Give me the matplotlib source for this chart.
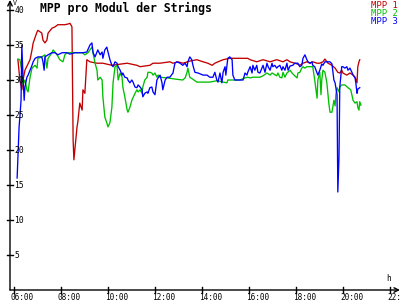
import matplotlib
matplotlib.use("Agg")
import matplotlib.pyplot as plt
import matplotlib.transforms as mtransforms

# MPP 1 (rot)
t_mpp1 = ["06:10", "06:15", "06:20", "06:23", "06:28", "06:41", "06:46", "06:49", "06:54", "06:59",
          "07:01", "07:06", "07:11", "07:14", "07:19", "07:24", "07:27", "07:37", "07:45", "07:52",
          "08:03", "08:10", "08:18", "08:23", "08:28", "08:31", "08:33", "08:36", "08:41", "08:43",
          "08:48", "08:54", "08:56", "09:01", "09:06", "09:14", "09:32", "09:47", "10:10", "10:49",
          "11:14", "11:22", "11:47", "11:55", "12:13", "12:38", "12:46", "12:59", "13:11", "13:29",
          "13:47", "14:03", "14:15", "14:26", "14:33", "14:41", "14:54", "15:11", "15:45", "15:57",
          "16:03", "16:20", "16:36", "16:54", "17:11", "17:27", "17:37", "17:45", "18:03", "18:10",
          "18:18", "18:28", "18:36", "18:43", "18:54", "19:01", "19:09", "19:14", "19:19", "19:22",
          "19:32", "19:40", "19:47", "19:52", "19:57", "20:00", "20:10", "20:18", "20:26", "20:31",
          "20:36", "20:38", "20:41", "20:43"]
v_mpp1 = [32.9, 30.0, 28.6, 30.0, 31.4, 32.9, 34.3, 35.3, 36.1, 36.9,
          37.1, 36.9, 36.7, 35.7, 35.3, 35.7, 36.7, 37.4, 37.6, 37.9,
          37.9, 37.9, 38.0, 38.1, 37.6, 21.4, 18.6, 20.4, 23.3, 24.0,
          26.7, 25.7, 28.6, 28.1, 32.9, 32.6, 32.4, 32.4, 32.1, 32.4,
          32.1, 31.9, 32.1, 32.4, 32.4, 32.6, 32.4, 32.6, 32.4, 32.7,
          32.9, 32.6, 32.4, 32.1, 32.4, 32.6, 32.9, 33.1, 33.1, 33.1,
          32.9, 32.6, 32.9, 32.6, 32.9, 32.6, 32.9, 32.6, 32.3, 32.1,
          32.4, 32.6, 32.4, 32.6, 32.4, 32.4, 32.6, 33.0, 32.6, 32.4,
          32.1, 31.7, 31.1, 31.0, 31.4, 31.0, 30.7, 31.0, 30.7, 30.4,
          29.6, 31.9, 32.6, 32.9]

# MPP 2 (gruen)
t_mpp2 = ["06:10", "06:15", "06:20", "06:23", "06:28", "06:33", "06:36", "06:41", "06:46", "06:54",
          "06:59", "07:01", "07:11", "07:19", "07:24", "07:27", "07:37", "07:40", "07:50", "07:57",
          "08:05", "08:10", "08:15", "08:41", "08:54", "09:01", "09:09", "09:19", "09:27", "09:32",
          "09:34", "09:40", "09:45", "09:47", "09:52", "09:57", "10:00", "10:05", "10:10", "10:13",
          "10:18", "10:23", "10:26", "10:31", "10:36", "10:38", "10:43", "10:49", "10:51", "10:56",
          "11:01", "11:09", "11:14", "11:17", "11:22", "11:27", "11:29", "11:34", "11:40", "11:42",
          "11:47", "11:52", "11:55", "12:00", "12:05", "12:08", "12:13", "12:31", "12:56", "13:11",
          "13:17", "13:22", "13:24", "13:29", "13:37", "13:47", "14:20", "14:38", "14:54", "15:04",
          "15:06", "15:37", "15:50", "15:57", "16:03", "16:10", "16:28", "16:36", "16:46", "16:54",
          "16:59", "17:11", "17:14", "17:19", "17:24", "17:27", "17:32", "17:37", "17:45", "17:50",
          "17:57", "18:03", "18:05", "18:10", "18:15", "18:18", "18:23", "18:28", "18:43", "18:48",
          "18:54", "18:56", "19:01", "19:04", "19:06", "19:09", "19:14", "19:19", "19:24", "19:27",
          "19:32", "19:34", "19:37", "19:40", "19:42", "19:45", "19:50", "19:52", "19:57", "20:05",
          "20:13", "20:20", "20:26", "20:31", "20:36", "20:38", "20:41", "20:43", "20:46"]
v_mpp2 = [33.0, 32.9, 31.4, 29.3, 30.0, 28.6, 28.3, 30.4, 31.7, 32.1,
          31.7, 33.1, 33.3, 33.6, 31.7, 33.1, 33.9, 34.3, 33.6, 32.9,
          32.6, 33.6, 33.9, 33.9, 33.9, 33.6, 33.9, 34.7, 32.4, 31.4,
          30.0, 30.4, 30.0, 27.6, 24.7, 23.9, 23.3, 23.9, 26.1, 29.6,
          31.9, 32.1, 30.0, 31.0, 30.4, 29.0, 27.6, 25.7, 25.4, 26.1,
          27.1, 28.1, 28.6, 28.3, 28.6, 28.1, 29.0, 30.0, 30.4, 31.1,
          31.1, 31.0, 30.7, 31.0, 30.4, 30.7, 30.4, 30.3, 30.1, 30.0,
          30.3, 31.1, 31.7, 30.4, 30.1, 29.7, 29.7, 29.9, 29.7, 29.6,
          30.0, 30.0, 30.3, 30.4, 30.3, 30.4, 30.4, 30.6, 31.0, 30.7,
          31.0, 30.6, 31.0, 30.4, 30.3, 31.1, 30.4, 31.0, 31.4, 31.0,
          30.6, 30.3, 31.0, 31.1, 31.7, 31.9, 31.7, 31.9, 31.9, 30.0,
          27.4, 30.0, 31.1, 27.9, 30.0, 31.4, 31.1, 29.6, 26.7, 25.4,
          25.4, 26.1, 27.1, 26.3, 27.9, 28.9, 28.3, 29.0, 29.3, 29.3,
          28.9, 28.6, 27.1, 26.7, 26.9, 26.1, 25.7, 26.9, 26.4]

# MPP 3 (blau)
t_mpp3 = ["06:08", "06:10", "06:13", "06:15", "06:18", "06:20", "06:23", "06:26", "06:28", "06:33",
          "06:36", "06:41", "06:46", "06:49", "06:54", "07:01", "07:11", "07:14", "07:17", "07:19",
          "07:27", "07:37", "07:45", "07:52", "08:03", "08:15", "08:23", "08:36", "08:56", "09:06",
          "09:14", "09:19", "09:22", "09:27", "09:34", "09:40", "09:45", "09:47", "09:52", "09:57",
          "10:00", "10:05", "10:10", "10:13", "10:18", "10:23", "10:26", "10:31", "10:36", "10:38",
          "10:43", "10:49", "10:51", "10:56", "11:01", "11:04", "11:09", "11:14", "11:17", "11:22",
          "11:27", "11:29", "11:34", "11:40", "11:42", "11:47", "11:52", "11:55", "12:00", "12:05",
          "12:08", "12:13", "12:18", "12:20", "12:26", "12:31", "12:38", "12:46", "12:51", "12:56",
          "13:04", "13:11", "13:17", "13:22", "13:24", "13:29", "13:34", "13:37", "13:42", "13:50",
          "14:03", "14:13", "14:20", "14:28", "14:33", "14:38", "14:41", "14:46", "14:51", "14:54",
          "14:59", "15:01", "15:04", "15:06", "15:11", "15:17", "15:19", "15:24", "15:45", "15:50",
          "15:55", "15:57", "16:03", "16:08", "16:10", "16:15", "16:20", "16:23", "16:28", "16:33",
          "16:36", "16:41", "16:46", "16:49", "16:54", "16:59", "17:01", "17:06", "17:11", "17:14",
          "17:19", "17:24", "17:27", "17:32", "17:37", "17:40", "17:45", "17:52", "17:57", "18:05",
          "18:10", "18:15", "18:18", "18:23", "18:28", "18:31", "18:36", "18:41", "18:43", "18:48",
          "18:54", "18:56", "19:01", "19:06", "19:09", "19:14", "19:19", "19:27", "19:32", "19:34",
          "19:37", "19:40", "19:45", "19:47", "19:50", "19:52", "19:57", "20:00", "20:05", "20:10",
          "20:13", "20:18", "20:23", "20:26", "20:31", "20:33", "20:36", "20:38", "20:43"]
v_mpp3 = [16.0, 19.0, 23.3, 24.7, 27.1, 35.0, 30.4, 27.1, 29.0, 30.4,
          30.7, 31.4, 32.1, 32.6, 33.1, 33.3, 33.3, 32.6, 31.4, 33.3,
          33.6, 33.9, 33.9, 33.6, 33.9, 33.9, 33.7, 33.9, 33.9, 34.0,
          35.0, 35.3, 33.9, 33.3, 34.3, 33.6, 34.0, 33.1, 34.3, 34.7,
          34.0, 32.9, 32.1, 31.9, 32.6, 32.4, 31.9, 31.4, 30.7, 31.0,
          30.4, 30.3, 30.0, 29.6, 30.0, 29.7, 29.0, 28.9, 29.3, 29.0,
          28.6, 27.6, 28.1, 28.3, 28.1, 28.9, 29.0, 28.3, 27.9, 30.0,
          30.3, 30.7, 29.6, 28.6, 30.0, 30.4, 30.4, 31.0, 32.4, 32.6,
          32.4, 32.1, 32.4, 31.9, 32.6, 33.3, 32.9, 32.1, 31.1, 31.0,
          30.7, 30.7, 30.4, 30.4, 31.1, 30.0, 29.7, 31.0, 29.6, 31.1,
          31.9, 30.7, 32.1, 33.1, 33.3, 32.9, 30.7, 30.0, 30.0, 31.0,
          30.7, 31.1, 31.9, 31.0, 32.1, 31.4, 32.1, 31.1, 31.0, 31.7,
          32.1, 31.1, 32.4, 31.9, 31.4, 32.4, 31.9, 32.1, 31.7, 31.9,
          32.1, 31.4, 31.9, 31.4, 32.4, 31.4, 32.0, 32.1, 32.4, 32.4,
          31.9, 32.1, 33.1, 33.6, 32.9, 32.6, 32.4, 32.6, 32.1, 31.9,
          31.0, 30.7, 31.4, 32.3, 32.1, 32.6, 32.6, 32.6, 32.3, 31.4,
          30.0, 29.6, 27.9, 14.0, 19.0, 29.0, 31.9, 31.9, 31.7, 31.9,
          31.4, 31.7, 31.1, 30.7, 30.3, 29.6, 28.1, 28.7, 28.9]

series = [("MPP 1", t_mpp1, v_mpp1, "#c00000"),
          ("MPP 2", t_mpp2, v_mpp2, "#00c000"),
          ("MPP 3", t_mpp3, v_mpp3, "#0000ff")]

x_ticks = [6, 8, 10, 12, 14, 16, 18, 20, 22]
x_labels = ["06:00", "08:00", "10:00", "12:00", "14:00", "16:00", "18:00", "20:00", "22:00"]
y_ticks = [5, 10, 15, 20, 25, 30, 35, 40]


def hrs(t):
    h, m = t.split(":")
    return int(h) + int(m) / 60


fig = plt.figure(figsize=(4, 3), dpi=100)
ax = fig.add_axes([0.025, 10 / 300, 0.975, 290 / 300])
ax.set_xlim(5.83, 22.43)
ax.set_ylim(0, 41.43)
for s in ax.spines.values():
    s.set_visible(False)
ax.set_xticks([])
ax.set_yticks([])

mono = "DejaVu Sans Mono"

for name, t, v, c in series:
    ax.plot([hrs(x) for x in t], v, color=c, lw=0.95, clip_on=False)

# Achsen mit Pfeilen
arrow = dict(arrowstyle="->", lw=1.0, color="black", shrinkA=0, shrinkB=0,
             mutation_scale=8)
ax.annotate("", xy=(1, 0), xytext=(0, 0), xycoords="axes fraction", arrowprops=arrow)
ax.annotate("", xy=(0, 1), xytext=(0, 0), xycoords="axes fraction", arrowprops=arrow)

# Ticks
xt = ax.get_xaxis_transform()
yt = ax.get_yaxis_transform()
for x, lab in zip(x_ticks, x_labels):
    ax.plot([x, x], [-0.011, 0.011], color="black", lw=1.0, transform=xt, clip_on=False)
    off = mtransforms.ScaledTranslation(-3 / 100, -2.5 / 100, fig.dpi_scale_trans)
    ax.text(x, 0, lab, transform=xt + off, ha="left", va="top",
            fontsize=5.6, family=mono, clip_on=False)
for y in y_ticks:
    ax.plot([-0.008, 0.008], [y, y], color="black", lw=1.0, transform=yt, clip_on=False)
    ax.text(0.011, y, str(y), transform=yt, ha="left", va="center",
            fontsize=5.8, family=mono)

# Einheiten
fig.text(0.033, 1.0, "V", ha="left", va="top", fontsize=4.8, family=mono)
ax.text(0.966, 0.025, "h", transform=ax.transAxes, ha="left", va="bottom",
        fontsize=5.5, family=mono)

fig.text(0.1, 0.995, "MPP pro Modul der Strings", ha="left", va="top",
         fontsize=8.3, family=mono, fontweight="bold")

# Legende
for i, (name, t, v, c) in enumerate(series):
    fig.text(0.995, 0.995 - i * 0.026, name, ha="right", va="top",
             fontsize=6.4, family=mono, color=c)

fig.savefig("out.png", dpi=100, facecolor="white")
